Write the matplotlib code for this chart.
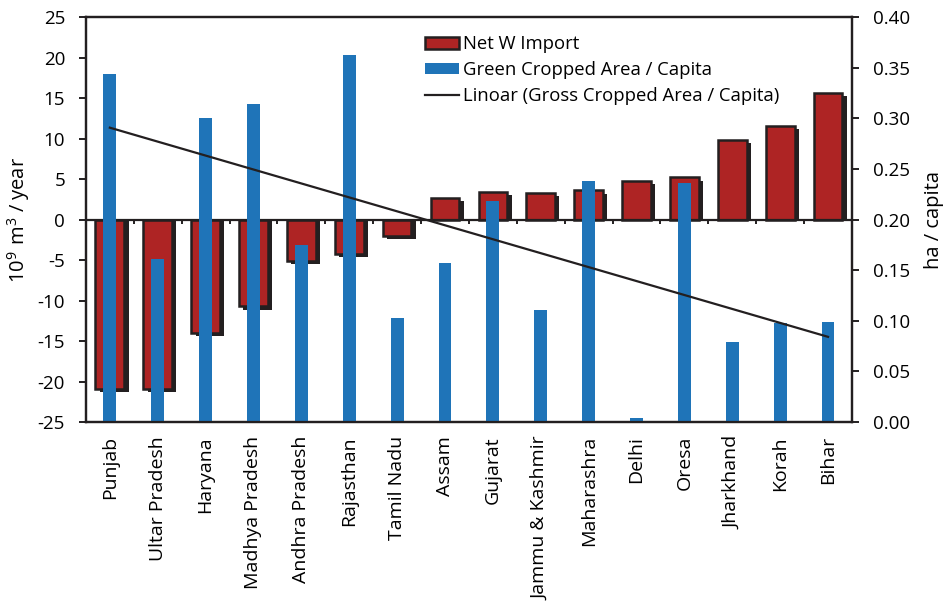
import matplotlib
matplotlib.use("Agg")
import matplotlib.pyplot as plt
from matplotlib.patches import Patch
from matplotlib.lines import Line2D
import numpy as np

plt.rcParams['font.family'] = ['Open Sans', 'DejaVu Sans']
plt.rcParams['mathtext.fontset'] = 'custom'
plt.rcParams['mathtext.rm'] = 'Open Sans'
plt.rcParams['axes.unicode_minus'] = False

# States, ordered by net virtual water import
states = ['Punjab', 'Ultar Pradesh', 'Haryana', 'Madhya Pradesh', 'Andhra Pradesh',
          'Rajasthan', 'Tamil Nadu', 'Assam', 'Gujarat', 'Jammu & Kashmir',
          'Maharashra', 'Delhi', 'Oresa', 'Jharkhand', 'Korah', 'Bihar']

# net water import, 10^9 m3 / year
net_import = [-20.9, -20.9, -14.0, -10.7, -5.1, -4.2, -2.0, 2.7,
              3.4, 3.3, 3.6, 4.8, 5.2, 9.8, 11.6, 15.6]

# cropped area per capita, ha / capita
area_per_capita = [0.344, 0.161, 0.300, 0.314, 0.175, 0.363, 0.103, 0.157,
                   0.218, 0.111, 0.238, 0.004, 0.236, 0.079, 0.098, 0.099]

RED = '#AE2424'
BLUE = '#1F74B8'
DARK = '#231F20'

x = np.arange(len(states))
vals = np.array(net_import)

fig = plt.figure(figsize=(9.44, 6.10), dpi=100)
ax = fig.add_axes([0.091, 0.308, 0.8115, 0.664])
ax2 = ax.twinx()

# dark shadow behind each red bar, shifted right and down, clipped at zero
ax.bar(x + 0.09, vals - 0.4, width=0.6, color=DARK, linewidth=0, zorder=1)
ax.bar(x, vals, width=0.6, color=RED, edgecolor=DARK, linewidth=1.8, zorder=2)
ax.axhline(0, color=DARK, linewidth=1.6, zorder=3)
# small ticks between states along the zero line
ax.vlines(x[1:] - 0.5, -0.5, 0, color=DARK, linewidth=1.4, zorder=3)

ax.set_xlim(-0.5, len(states) - 0.5)
ax.set_ylim(-25, 25)
ax.set_yticks(np.arange(-25, 26, 5))
ax.set_xticks(x)
ax.set_xticklabels(states, rotation=90, fontsize=14)
ax.tick_params(axis='x', length=0, pad=10)
ax.tick_params(axis='y', labelsize=13.5, length=5, width=1.4, color=DARK, pad=10)
ax.set_ylabel(r'$\mathregular{10^9\ m^3}$ / year', fontsize=14.5)
ax.yaxis.set_label_coords(-0.071, 0.5)

# blue bars and linear trend on the right axis
ax2.bar(x, area_per_capita, width=0.27, color=BLUE, zorder=2)
slope, intercept = np.polyfit(x, area_per_capita, 1)
ax2.plot(x, slope * x + intercept, color=DARK, linewidth=1.6, zorder=3)
ax2.set_ylim(0, 0.40)
ax2.set_yticks(np.arange(0, 0.41, 0.05))
ax2.set_yticklabels([f'{v:.2f}' for v in np.arange(0, 0.41, 0.05)])
ax2.tick_params(axis='y', labelsize=13.5, length=5, width=1.4, color=DARK, pad=10)
ax2.set_ylabel('ha / capita', fontsize=14.5, labelpad=10)

for a in (ax, ax2):
    for s in a.spines.values():
        s.set_linewidth(1.6)
        s.set_color(DARK)

handles = [Patch(facecolor=RED, edgecolor=DARK, linewidth=1.8),
           Patch(facecolor=BLUE),
           Line2D([0], [0], color=DARK, linewidth=1.6)]
labels = ['Net W Import', 'Green Cropped Area / Capita',
          'Linoar (Gross Cropped Area / Capita)']
ax2.legend(handles, labels, loc='upper left', bbox_to_anchor=(0.443, 0.955),
           frameon=False, fontsize=13.3, handlelength=1.8, handleheight=0.6,
           handletextpad=0.25, labelspacing=0.42, borderaxespad=0,
           borderpad=0)

fig.savefig('out.png', dpi=100)
